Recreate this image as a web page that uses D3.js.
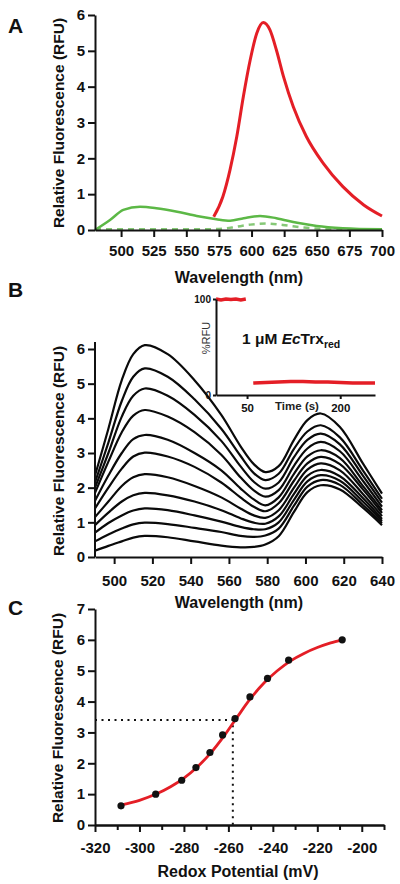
<!DOCTYPE html>
<html><head><meta charset="utf-8">
<script src="https://cdn.jsdelivr.net/npm/d3@7"></script>
<style>
html,body{margin:0;padding:0;background:#fff;}
svg{display:block;font-family:"Liberation Sans",Arial,sans-serif;}
.tick text{font-weight:bold;}
</style></head>
<body><svg id="c" width="400" height="884"></svg>
<script>
// ---------- DATA ----------
// Panel A
const aRedWl = [571, 578, 583.5, 588.7, 593.7, 599, 604, 609, 614, 619, 624.5, 632, 642, 655, 670, 686, 700];
const aRed   = [0.37, 0.93, 1.68, 2.61, 3.72, 4.75, 5.49, 5.79, 5.59, 5.03, 4.28, 3.44, 2.61, 1.86, 1.21, 0.70, 0.39];
const aGreenWl = [480, 491.5, 501.7, 514.5, 527, 543, 558, 573, 583.5, 594, 606.5, 619, 635, 650, 670, 700];
const aGreen   = [0.0, 0.28, 0.56, 0.65, 0.61, 0.51, 0.39, 0.30, 0.26, 0.33, 0.39, 0.33, 0.20, 0.11, 0.05, 0.02];
const aDashWl = [480, 520, 560, 575, 585, 599, 611, 624, 640, 655, 670, 700];
const aDash   = [0.02, 0.02, 0.02, 0.03, 0.07, 0.15, 0.18, 0.14, 0.07, 0.03, 0.01, 0.01];
const aXTicks = [500, 525, 550, 575, 600, 625, 650, 675, 700];
const aYTicks = [0, 1, 2, 3, 4, 5, 6];

// Panel B
const bWl = [490, 497, 504, 510, 516, 528, 542, 556, 566, 573, 579, 586, 594, 601, 608, 618, 630, 640];
const bCurve0  = [2.35, 3.70, 5.10, 5.85, 6.11, 5.85, 5.10, 4.10, 3.20, 2.68, 2.45, 2.62, 3.38, 3.95, 4.14, 3.75, 2.70, 1.83];
const bCurve1  = [2.15, 3.30, 4.50, 5.20, 5.44, 5.20, 4.55, 3.70, 2.92, 2.42, 2.22, 2.40, 3.12, 3.62, 3.80, 3.45, 2.50, 1.68];
const bCurve2  = [2.00, 3.00, 4.05, 4.65, 4.86, 4.65, 4.10, 3.35, 2.62, 2.17, 1.97, 2.15, 2.88, 3.38, 3.56, 3.25, 2.35, 1.57];
const bCurve3  = [1.85, 2.75, 3.60, 4.08, 4.24, 4.05, 3.60, 2.95, 2.30, 1.92, 1.74, 1.93, 2.63, 3.13, 3.32, 3.05, 2.20, 1.45];
const bCurve4  = [1.62, 2.35, 3.00, 3.40, 3.52, 3.38, 3.00, 2.50, 1.98, 1.66, 1.49, 1.72, 2.40, 2.90, 3.08, 2.85, 2.05, 1.35];
const bCurve5  = [1.40, 2.00, 2.55, 2.90, 3.01, 2.90, 2.60, 2.15, 1.72, 1.45, 1.32, 1.55, 2.20, 2.70, 2.89, 2.68, 1.95, 1.27];
const bCurve6  = [1.15, 1.60, 2.05, 2.30, 2.39, 2.30, 2.05, 1.72, 1.40, 1.20, 1.13, 1.35, 2.00, 2.52, 2.70, 2.50, 1.82, 1.18];
const bCurve7  = [0.92, 1.28, 1.60, 1.78, 1.85, 1.78, 1.60, 1.35, 1.12, 0.99, 0.96, 1.17, 1.82, 2.34, 2.51, 2.33, 1.70, 1.10];
const bCurve8  = [0.70, 0.98, 1.20, 1.34, 1.40, 1.35, 1.20, 1.02, 0.87, 0.80, 0.80, 1.00, 1.65, 2.18, 2.36, 2.20, 1.60, 1.04];
const bCurve9  = [0.45, 0.65, 0.82, 0.94, 0.99, 0.95, 0.84, 0.72, 0.61, 0.58, 0.62, 0.82, 1.48, 2.03, 2.22, 2.08, 1.50, 0.98];
const bCurve10 = [0.18, 0.32, 0.45, 0.56, 0.61, 0.57, 0.45, 0.33, 0.28, 0.29, 0.36, 0.60, 1.30, 1.87, 2.07, 1.95, 1.42, 0.92];
const bCurves = [bCurve0, bCurve1, bCurve2, bCurve3, bCurve4, bCurve5, bCurve6, bCurve7, bCurve8, bCurve9, bCurve10];
const bXTicks = [500, 520, 540, 560, 580, 600, 620, 640];
const bYTicks = [0, 1, 2, 3, 4, 5, 6];

// Inset
const insTime1 = [0, 8, 16, 24, 32, 40, 48];
const insVal1  = [100, 99, 100, 99.5, 100, 99, 100];
const insTime2 = [60, 80, 100, 120, 140, 160, 180, 200, 220, 240, 256];
const insVal2  = [12.5, 13, 13.5, 14, 14, 13.5, 13.5, 13, 12.5, 12.5, 12.5];
const insXTicks = [50, 200];
const insYTicks = [0, 100];

// Panel C
const cPot  = [-308.3, -292.7, -281, -274.6, -268.3, -262.6, -257, -250.3, -242.4, -232.9, -208.8];
const cRfu  = [0.62, 1.0, 1.45, 1.86, 2.35, 2.92, 3.45, 4.15, 4.75, 5.34, 6.0];
const cFitPot = [-308, -300, -292, -286, -280, -274, -268, -262, -256, -250, -244, -238, -232, -226, -220, -214, -209];
const cFitRfu = [0.65, 0.80, 1.02, 1.24, 1.52, 1.88, 2.33, 2.88, 3.50, 4.10, 4.60, 5.00, 5.32, 5.56, 5.75, 5.90, 6.00];
const cMidPot = -258;
const cMidRfu = 3.4;
const cXTicks = [-320, -300, -280, -260, -240, -220, -200];
const cXMinor = [-310, -290, -270, -250, -230, -210, -190];
const cYTicks = [0, 1, 2, 3, 4, 5, 6, 7];

// ---------- DRAW ----------
const svg = d3.select("#c");
const RED = "#e41e26", GREEN = "#5cb846", GREEN2 = "#86c877";
const intFmt = d3.format("d");

function styleAxis(g, fs) {
  g.selectAll(".domain").attr("stroke", "#111").attr("stroke-width", 2);
  g.selectAll(".tick line").attr("stroke", "#111").attr("stroke-width", 2);
  g.selectAll(".tick text").attr("font-size", fs).attr("fill", "#111").attr("font-weight", "bold");
}
function yTitle(text, x, y) {
  svg.append("text").attr("transform", `translate(${x},${y}) rotate(-90)`)
    .attr("text-anchor", "middle").attr("font-size", 15.5).attr("font-weight", "bold").attr("fill", "#111").text(text);
}
function xTitle(text, x, y) {
  svg.append("text").attr("x", x).attr("y", y).attr("text-anchor", "middle")
    .attr("font-size", 16).attr("font-weight", "bold").attr("fill", "#111").text(text);
}
function panelLabel(t, y) {
  svg.append("text").attr("x", 8).attr("y", y).attr("font-size", 21).attr("font-weight", "bold").attr("fill", "#111").text(t);
}

// Panel A
{
  const x = d3.scaleLinear().domain([480, 700]).range([95, 382]);
  const y = d3.scaleLinear().domain([0, 6]).range([230, 15]);
  const line = d3.line().x(d => x(d[0])).y(d => y(d[1])).curve(d3.curveMonotoneX);
  svg.append("path").datum(aDashWl.map((w, i) => [w, aDash[i]])).attr("d", line)
    .attr("fill", "none").attr("stroke", GREEN2).attr("stroke-width", 2.5).attr("stroke-dasharray", "6,5");
  svg.append("path").datum(aGreenWl.map((w, i) => [w, aGreen[i]])).attr("d", line)
    .attr("fill", "none").attr("stroke", GREEN).attr("stroke-width", 2.5);
  svg.append("path").datum(aRedWl.map((w, i) => [w, aRed[i]])).attr("d", line)
    .attr("fill", "none").attr("stroke", RED).attr("stroke-width", 3);
  const gx = svg.append("g").attr("transform", "translate(0,230)")
    .call(d3.axisBottom(x).tickValues(aXTicks).tickFormat(intFmt).tickSize(7).tickPadding(8).tickSizeOuter(0));
  styleAxis(gx, 15);
  const gy = svg.append("g").attr("transform", "translate(95,0)")
    .call(d3.axisLeft(y).tickValues(aYTicks).tickFormat(intFmt).tickSize(7).tickPadding(3).tickSizeOuter(0));
  styleAxis(gy, 15);
  yTitle("Relative Fluorescence (RFU)", 64, 123);
  xTitle("Wavelength (nm)", 239, 283);
  panelLabel("A", 33);
}

// Panel B
{
  const x = d3.scaleLinear().domain([490, 640]).range([95, 382]);
  const y = d3.scaleLinear().domain([0, 6]).range([557, 349]);
  const line = d3.line().x(d => x(d[0])).y(d => y(d[1])).curve(d3.curveCatmullRom.alpha(0.5));
  bCurves.forEach(c => {
    svg.append("path").datum(bWl.map((w, i) => [w, c[i]])).attr("d", line)
      .attr("fill", "none").attr("stroke", "#0a0a0a").attr("stroke-width", 2.2);
  });
  const gx = svg.append("g").attr("transform", "translate(0,557)")
    .call(d3.axisBottom(x).tickValues(bXTicks).tickFormat(intFmt).tickSize(7).tickPadding(11).tickSizeOuter(0));
  styleAxis(gx, 15);
  const gy = svg.append("g").attr("transform", "translate(95,0)")
    .call(d3.axisLeft(y).tickValues(bYTicks).tickFormat(intFmt).tickSize(7).tickPadding(3).tickSizeOuter(0));
  gy.select(".domain").attr("d", `M0,${y(0)}V${y(6.2)}`);
  styleAxis(gy, 15);
  yTitle("Relative Fluorescence (RFU)", 64, 451);
  xTitle("Wavelength (nm)", 239, 608);
  panelLabel("B", 297);

  // Inset
  const ix = d3.scaleLinear().domain([0, 256]).range([216, 375]);
  const iy = d3.scaleLinear().domain([0, 100]).range([395, 299]);
  const iline = d3.line().x(d => ix(d[0])).y(d => iy(d[1]));
  svg.append("path").datum(insTime1.map((t, i) => [t, insVal1[i]])).attr("d", iline)
    .attr("fill", "none").attr("stroke", RED).attr("stroke-width", 3.5);
  svg.append("path").datum(insTime2.map((t, i) => [t, insVal2[i]])).attr("d", iline)
    .attr("fill", "none").attr("stroke", RED).attr("stroke-width", 3.5);
  const igx = svg.append("g").attr("transform", "translate(0,395)")
    .call(d3.axisBottom(ix).tickValues(insXTicks).tickFormat(intFmt).tickSize(4).tickPadding(5).tickSizeOuter(0));
  styleAxis(igx, 11.5);
  const igy = svg.append("g").attr("transform", "translate(216,0)")
    .call(d3.axisLeft(iy).tickValues(insYTicks).tickFormat(intFmt).tickSize(3).tickPadding(2).tickSizeOuter(0));
  styleAxis(igy, 10);
  svg.append("text").attr("x", 297).attr("y", 410).attr("text-anchor", "middle")
    .attr("font-size", 11.5).attr("font-weight", "bold").attr("fill", "#222").text("Time (s)");
  svg.append("text").attr("transform", "translate(210,338) rotate(-90)").attr("text-anchor", "middle")
    .attr("font-size", 11).attr("fill", "#333").text("%RFU");
  const t = svg.append("text").attr("x", 242).attr("y", 344).attr("font-size", 15.5)
    .attr("font-weight", "bold").attr("fill", "#111");
  t.append("tspan").text("1 μM ");
  t.append("tspan").attr("font-style", "italic").text("Ec");
  t.append("tspan").text("Trx");
  t.append("tspan").attr("font-size", 10.5).attr("dy", 4).text("red");
}

// Panel C
{
  const x = d3.scaleLinear().domain([-320, -190]).range([95, 384]);
  const y = d3.scaleLinear().domain([0, 7]).range([825, 609]);
  svg.append("path").attr("d", `M${x(-320)},${y(cMidRfu)}H${x(cMidPot)}V${y(0)}`)
    .attr("fill", "none").attr("stroke", "#111").attr("stroke-width", 2).attr("stroke-dasharray", "2,4.5");
  const line = d3.line().x(d => x(d[0])).y(d => y(d[1])).curve(d3.curveCatmullRom);
  svg.append("path").datum(cFitPot.map((p, i) => [p, cFitRfu[i]])).attr("d", line)
    .attr("fill", "none").attr("stroke", RED).attr("stroke-width", 2.8);
  svg.selectAll("circle.pt").data(cPot.map((p, i) => [p, cRfu[i]])).enter().append("circle")
    .attr("class", "pt").attr("cx", d => x(d[0])).attr("cy", d => y(d[1])).attr("r", 3.6).attr("fill", "#111");
  const gm = svg.append("g").attr("transform", "translate(0,825)")
    .call(d3.axisBottom(x).tickValues(cXMinor).tickSize(5).tickFormat("").tickSizeOuter(0));
  styleAxis(gm, 15);
  const gx = svg.append("g").attr("transform", "translate(0,825)")
    .call(d3.axisBottom(x).tickValues(cXTicks).tickSize(7).tickPadding(10).tickSizeOuter(0)
      .tickFormat(d => String(d)));
  styleAxis(gx, 15);
  const gy = svg.append("g").attr("transform", "translate(95,0)")
    .call(d3.axisLeft(y).tickValues(cYTicks).tickFormat(intFmt).tickSize(7).tickPadding(3).tickSizeOuter(0));
  styleAxis(gy, 15);
  yTitle("Relative Fluorescence (RFU)", 63, 718);
  xTitle("Redox Potential (mV)", 238, 877);
  panelLabel("C", 615);
}
</script></body></html>
